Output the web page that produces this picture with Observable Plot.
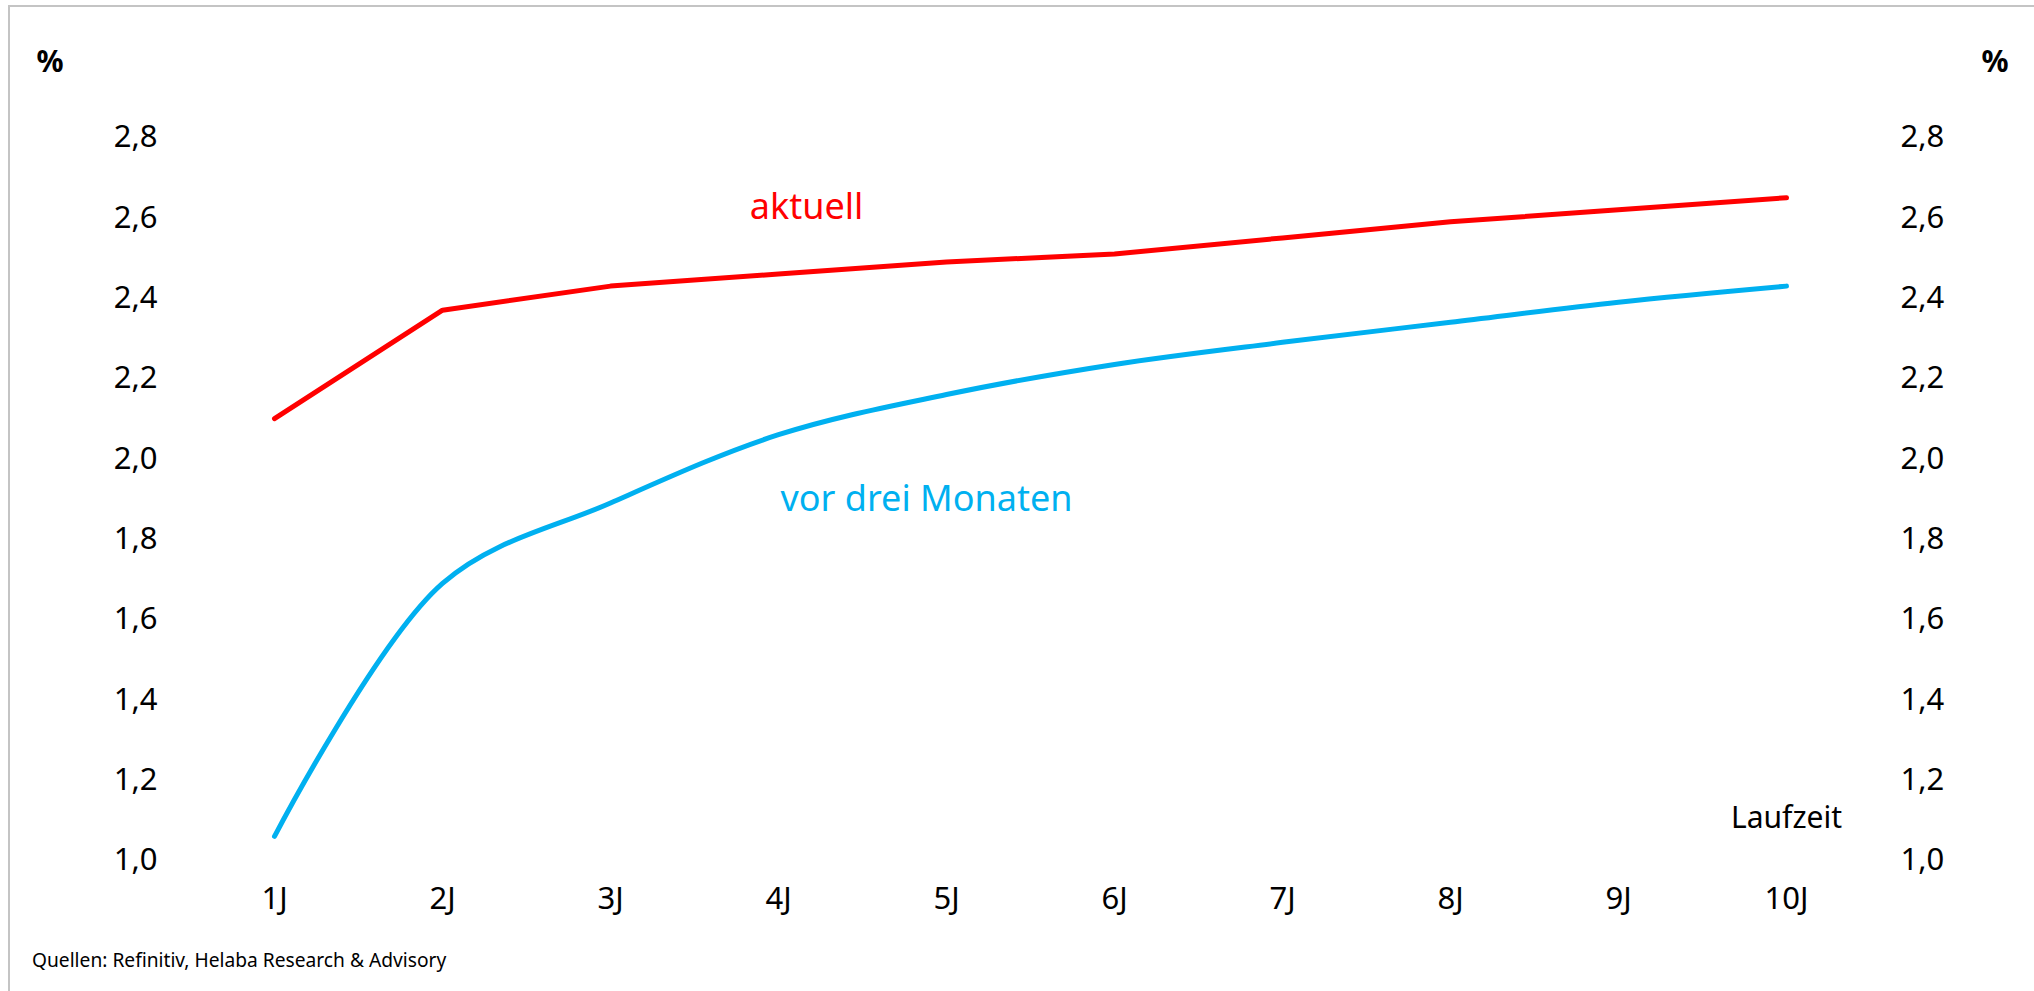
<!DOCTYPE html>
<html>
<head>
<meta charset="utf-8">
<script src="https://cdn.jsdelivr.net/npm/d3@7"></script>
<script src="https://cdn.jsdelivr.net/npm/@observablehq/plot@0.6"></script>
<style>
  html, body { margin: 0; padding: 0; background: #fff; }
  body { width: 2034px; height: 991px; position: relative; overflow: hidden; font-family: "Noto Sans", sans-serif; }
  #frame { position: absolute; left: 8px; top: 5px; width: 2040px; height: 1000px; border-left: 2px solid #c4c4c4; border-top: 2px solid #c4c4c4; box-sizing: border-box; pointer-events: none; }
  #chart { position: absolute; left: 0; top: 0; }
  #caption { position: absolute; left: 32px; top: 948px; font-size: 19.2px; line-height: 24px; color: #000; font-family: "Noto Sans", sans-serif; }
</style>
</head>
<body>
<div id="chart"></div>
<div id="caption">Quellen: Refinitiv, Helaba Research &amp; Advisory</div>
<div id="frame"></div>
<script>
// ---- data ----
const maturities = ["1J", "2J", "3J", "4J", "5J", "6J", "7J", "8J", "9J", "10J"];
const aktuell = [2.10, 2.37, 2.43, 2.46, 2.49, 2.51, 2.55, 2.59, 2.62, 2.65];
const vorDreiMonaten = [1.06, 1.69, 1.89, 2.06, 2.16, 2.235, 2.29, 2.34, 2.39, 2.43];
const yTicks = [1.0, 1.2, 1.4, 1.6, 1.8, 2.0, 2.2, 2.4, 2.6, 2.8];
const seriesNames = ["aktuell", "vor drei Monaten"];
const seriesColors = ["#ff0000", "#00b0f0"];
const unitLabel = "%";
const xTitle = "Laufzeit";

// ---- build tables ----
const redRows = maturities.map((m, i) => ({ m, v: aktuell[i] }));
const blueRows = maturities.map((m, i) => ({ m, v: vorDreiMonaten[i] }));
const fmt = d => d.toFixed(1).replace(".", ",");

const chart = Plot.plot({
  width: 2034,
  height: 930,
  marginLeft: 270,
  marginRight: 244,
  marginTop: 137,
  marginBottom: 70,
  style: { fontFamily: "Noto Sans", fontSize: "31px", color: "#000", background: "transparent" },
  x: { type: "point", domain: maturities, padding: 0 },
  y: { domain: [1.0, 2.8] },
  marks: [
    Plot.axisY({ anchor: "left", ticks: yTicks, tickSize: 0, tickPadding: 113, tickFormat: fmt, label: null, fontSize: 31 }),
    Plot.axisY({ anchor: "right", ticks: yTicks, tickSize: 0, tickPadding: 110, tickFormat: fmt, label: null, fontSize: 31 }),
    Plot.axisX({ ticks: maturities, tickSize: 0, tickPadding: 26, label: null, fontSize: 31 }),
    Plot.line(redRows, { x: "m", y: "v", stroke: seriesColors[0], strokeWidth: 5, strokeLinecap: "round", strokeLinejoin: "round" }),
    Plot.line(blueRows, { x: "m", y: "v", stroke: seriesColors[1], strokeWidth: 5, strokeLinecap: "round", curve: "catmull-rom" }),
    Plot.text([seriesNames[0]], { x: () => "4J", y: () => 2.625, text: d => d, fill: seriesColors[0], dx: 28, fontSize: 36 }),
    Plot.text([seriesNames[1]], { x: () => "5J", y: () => 1.9, text: d => d, fill: seriesColors[1], dx: -20, fontSize: 36 }),
    Plot.text([xTitle], { x: () => "10J", y: () => 1.105, text: d => d, fontSize: 30, fill: "#000" }),
    Plot.text([unitLabel], { frameAnchor: "top-left", dx: -234, dy: -87, text: d => d, fontSize: 30, fontWeight: "bold" }),
    Plot.text([unitLabel], { frameAnchor: "top-right", dx: 218, dy: -87, text: d => d, fontSize: 30, fontWeight: "bold" })
  ]
});
document.getElementById("chart").appendChild(chart);
</script>
</body>
</html>
